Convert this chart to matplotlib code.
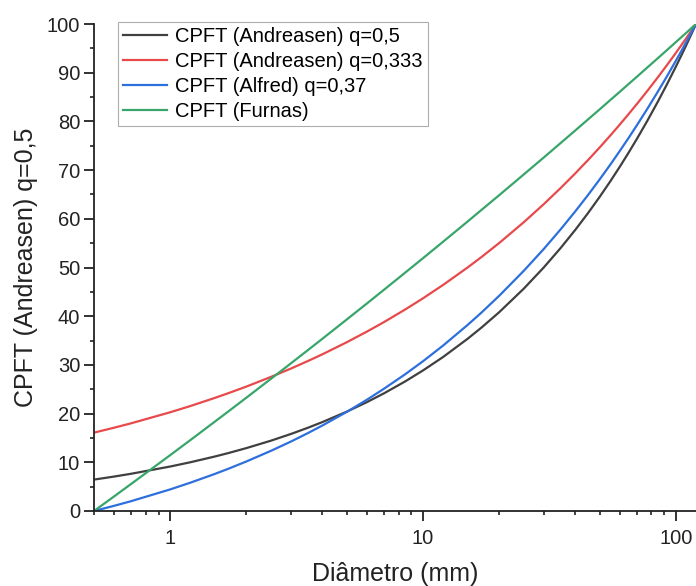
import matplotlib
matplotlib.use("Agg")
import matplotlib.pyplot as plt
from matplotlib.ticker import NullFormatter, MultipleLocator

plt.rcParams['font.family'] = ['Liberation Sans', 'DejaVu Sans']

diameter = [0.5, 0.6, 0.7, 1, 1.2, 1.5, 1.7, 2, 2.5, 3, 3.5, 4, 5, 6, 7, 8.5, 10, 12, 15, 17, 20, 25, 30,
            35, 40, 45, 50, 55, 60, 65, 70, 77, 85, 92, 100, 105, 110, 115, 120]
andreasen_05 = [6.45, 7.07, 7.64, 9.13, 10.0, 11.18, 11.90, 12.91, 14.43, 15.81, 17.08, 18.26, 20.41, 22.36,
                24.15, 26.61, 28.87, 31.62, 35.36, 37.64, 40.82, 45.64, 50.0, 54.01, 57.74, 61.24, 64.55,
                67.70, 70.71, 73.60, 76.38, 80.10, 84.16, 87.56, 91.29, 93.54, 95.74, 97.89, 100.0]
andreasen_0333 = [16.09, 17.10, 18.00, 20.27, 21.54, 23.21, 24.20, 25.54, 27.52, 29.24, 30.78, 32.18, 34.67,
                  36.84, 38.78, 41.38, 43.68, 46.42, 50.0, 52.13, 55.03, 59.28, 63.0, 66.32, 69.34, 72.11,
                  74.69, 77.10, 79.37, 81.52, 83.55, 86.25, 89.13, 91.52, 94.10, 95.65, 97.14, 98.59, 100.0]
alfred_037 = [0.0, 1.06, 2.01, 4.43, 5.80, 7.60, 8.68, 10.16, 12.34, 14.25, 15.98, 17.56, 20.37, 22.85,
              25.09, 28.08, 30.76, 33.97, 38.20, 40.72, 44.19, 49.30, 53.79, 57.84, 61.54, 64.95, 68.14,
              71.12, 73.95, 76.62, 79.18, 82.56, 86.21, 89.21, 92.49, 94.45, 96.36, 98.20, 100.0]
furnas = [0.0, 2.98, 5.53, 11.46, 14.53, 18.32, 20.46, 23.25, 27.12, 30.30, 33.01, 35.37, 39.35, 42.62,
          45.41, 48.95, 51.92, 55.29, 59.44, 61.80, 64.85, 69.10, 72.58, 75.56, 78.15, 80.45, 82.50,
          84.39, 86.09, 87.69, 89.15, 91.06, 93.03, 94.62, 96.30, 97.29, 98.22, 99.14, 100.0]

labels = ["CPFT (Andreasen) q=0,5", "CPFT (Andreasen) q=0,333", "CPFT (Alfred) q=0,37", "CPFT (Furnas)"]
colors = ["#404040", "#e8494b", "#2d6fdc", "#38a56a"]

fig = plt.figure(figsize=(6.96, 5.86), dpi=100)
ax = fig.add_axes([94/696, 75/586, 1 - 94/696, 487/586])

for ys, lab, c in zip([andreasen_05, andreasen_0333, alfred_037, furnas], labels, colors):
    ax.plot(diameter, ys, color=c, lw=1.6, label=lab)

ax.set_xscale('log')
ax.set_xlim(0.5, 120)
ax.set_ylim(0, 100)
ax.yaxis.set_major_locator(MultipleLocator(10))
ax.yaxis.set_minor_locator(MultipleLocator(5))
ax.set_xticks([1, 10, 100])
ax.set_xticklabels(["1", "10", "100"])
ax.xaxis.set_minor_formatter(NullFormatter())

for s in ['top', 'right']:
    ax.spines[s].set_visible(False)
for s in ['left', 'bottom']:
    ax.spines[s].set_linewidth(1.3)
    ax.spines[s].set_color('#222222')

ax.tick_params(axis='both', which='major', direction='out', length=7, width=1.3, labelsize=14.5,
               colors='#222222')
ax.tick_params(axis='x', which='major', pad=6)
ax.tick_params(axis='y', which='major', pad=3)
ax.tick_params(axis='both', which='minor', direction='out', length=3, width=1.2, colors='#222222')

ax.set_xlabel("Diâmetro (mm)", fontsize=18, labelpad=10, color='#222222')
ax.set_ylabel("CPFT (Andreasen) q=0,5", fontsize=18, labelpad=6, color='#222222')

leg = ax.legend(loc='upper left', bbox_to_anchor=(0.04, 1.004), fontsize=14.5, frameon=True, fancybox=False,
                edgecolor='#999999', handlelength=2.2, handletextpad=0.4, borderpad=0.25, labelspacing=0.3,
                borderaxespad=0)
leg.get_frame().set_linewidth(0.8)

fig.savefig("out.png", dpi=100)
